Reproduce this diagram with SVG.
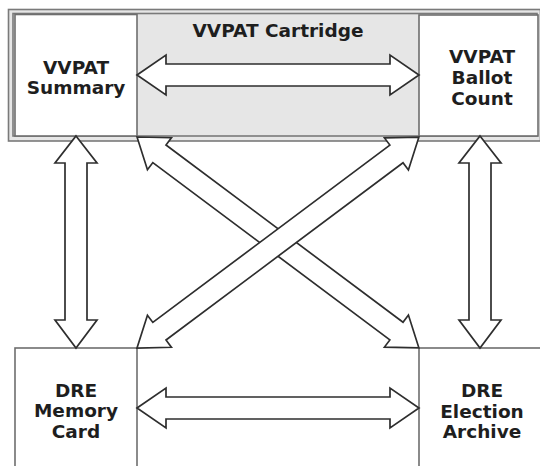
<svg xmlns="http://www.w3.org/2000/svg" width="540" height="466" viewBox="0 0 540 466">
<style>
.box{fill:#ffffff;stroke:#6e6e6e;stroke-width:1.6}
.frame{fill:#e6e6e6;stroke:#7a7a7a;stroke-width:1.6}
.arrow{fill:#ffffff;stroke:#2e2e2e;stroke-width:1.7;stroke-linejoin:miter}
.lbl{font-family:"DejaVu Sans",Verdana,sans-serif;font-weight:bold;font-size:18.5px;fill:#1e1e1e;text-anchor:middle}
</style>
<rect width="540" height="466" fill="#ffffff"/>
<g id="cartridge">
<rect class="frame" x="8.5" y="9.5" width="532" height="131.5"/>
<rect class="frame" x="13" y="13.5" width="524" height="122.5"/>
<text class="lbl" x="278" y="37">VVPAT Cartridge</text>
</g>
<g id="vvpat-summary">
<rect class="box" x="15" y="14.5" width="122" height="121.5"/>
<text class="lbl" x="76" y="74">VVPAT</text>
<text class="lbl" x="76" y="94">Summary</text>
</g>
<g id="vvpat-ballot-count">
<rect class="box" x="419" y="15" width="119" height="121"/>
<text class="lbl" x="482" y="63">VVPAT</text>
<text class="lbl" x="482" y="84">Ballot</text>
<text class="lbl" x="482" y="105">Count</text>
</g>
<g id="dre-memory-card">
<rect class="box" x="15" y="348" width="122" height="130"/>
<text class="lbl" x="76" y="397">DRE</text>
<text class="lbl" x="76" y="417">Memory</text>
<text class="lbl" x="76" y="438">Card</text>
</g>
<g id="dre-election-archive">
<rect class="box" x="419" y="348" width="130" height="130"/>
<text class="lbl" x="482" y="397">DRE</text>
<text class="lbl" x="482" y="418">Election</text>
<text class="lbl" x="482" y="438">Archive</text>
</g>
<g id="connectors">
<polygon class="arrow" points="137,75 166,55 166,64 390,64 390,55 419,75 390,95 390,86 166,86 166,95"/>
<polygon class="arrow" points="137,408 166,388 166,397 390,397 390,388 419,408 390,428 390,419 166,419 166,428"/>
<polygon class="arrow" points="76,136 97,163 87,163 87,320 97,320 76,348 55,320 65,320 65,163 55,163"/>
<polygon class="arrow" points="480,136 501,163 491,163 491,320 501,320 480,348 459,320 469,320 469,163 459,163"/>
<g transform="translate(137,137) rotate(36.8)">
<polygon class="arrow" points="0,0 28,-20 28,-11 324,-11 324,-20 352,0 324,20 324,11 28,11 28,20"/>
</g>
<g transform="translate(137,348) rotate(-36.8)">
<polygon class="arrow" points="0,0 28,-20 28,-11 324,-11 324,-20 352,0 324,20 324,11 28,11 28,20"/>
</g>
</g>
</svg>
